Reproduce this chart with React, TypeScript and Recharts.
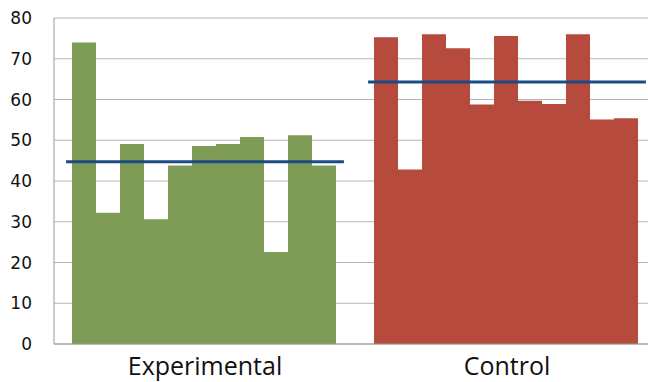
import { ComposedChart, Bar, Cell, Scatter, XAxis, YAxis, CartesianGrid } from 'recharts';

const groups = ['Experimental', 'Control'];
const groupColors = ['#7e9c55', '#b54a3d'];

const experimental = [74.0, 32.2, 49.1, 30.6, 43.8, 48.6, 49.1, 50.8, 22.6, 51.2, 43.8];
const control = [75.3, 42.8, 76.0, 72.6, 58.8, 75.6, 59.7, 58.9, 76.0, 55.1, 55.4];
const means = [44.7, 64.3];

const yTicks = [0, 10, 20, 30, 40, 50, 60, 70, 80];

// one row per group, one key per subject
const data = groups.map((name, g) => {
    const values = g === 0 ? experimental : control;
    const row: Record<string, number | string> = { name };
    values.forEach((v, i) => {
        row[`s${i}`] = v;
    });
    return row;
});

const seriesKeys = experimental.map((_, i) => `s${i}`);

// mean line of each group, a bit wider than its bars
const meanLines = means.map((m, g) => [
    { x: g + 0.04, y: m },
    { x: g + 0.96, y: m },
]);

export default function App() {
    return (
        <div style={{ position: 'fixed', left: 0, top: 0, width: 648, height: 382, overflow: 'hidden', background: '#fff' }}>
            <ComposedChart
                width={660}
                height={382}
                data={data}
                margin={{ top: 18, right: 2, bottom: 0, left: 0 }}
                barCategoryGap={18}
                barGap={0}
            >
                <CartesianGrid vertical={false} stroke="#b4b4b4" strokeWidth={1} />
                <XAxis
                    xAxisId="cat"
                    dataKey="name"
                    stroke="#9a9a9a"
                    tickLine={false}
                    height={38}
                    tick={{ fill: '#111', fontSize: 25, fontFamily: 'Open Sans' }}
                    tickMargin={7}
                />
                <XAxis xAxisId="num" type="number" dataKey="x" domain={[0, 2]} hide />
                <YAxis
                    domain={[0, 80]}
                    ticks={yTicks}
                    width={54}
                    stroke="#9a9a9a"
                    tickLine={false}
                    tickMargin={16}
                    tick={{ fill: '#111', fontSize: 17, fontFamily: 'DejaVu Sans' }}
                />
                {seriesKeys.map((key) => (
                    <Bar key={key} xAxisId="cat" dataKey={key} isAnimationActive={false}>
                        {data.map((_, g) => (
                            <Cell key={g} fill={groupColors[g]} />
                        ))}
                    </Bar>
                ))}
                {meanLines.map((pts, g) => (
                    <Scatter
                        key={g}
                        xAxisId="num"
                        data={pts}
                        dataKey="y"
                        line={{ stroke: '#1c4a84', strokeWidth: 3 }}
                        shape={() => <g />}
                        isAnimationActive={false}
                    />
                ))}
            </ComposedChart>
        </div>
    );
}
